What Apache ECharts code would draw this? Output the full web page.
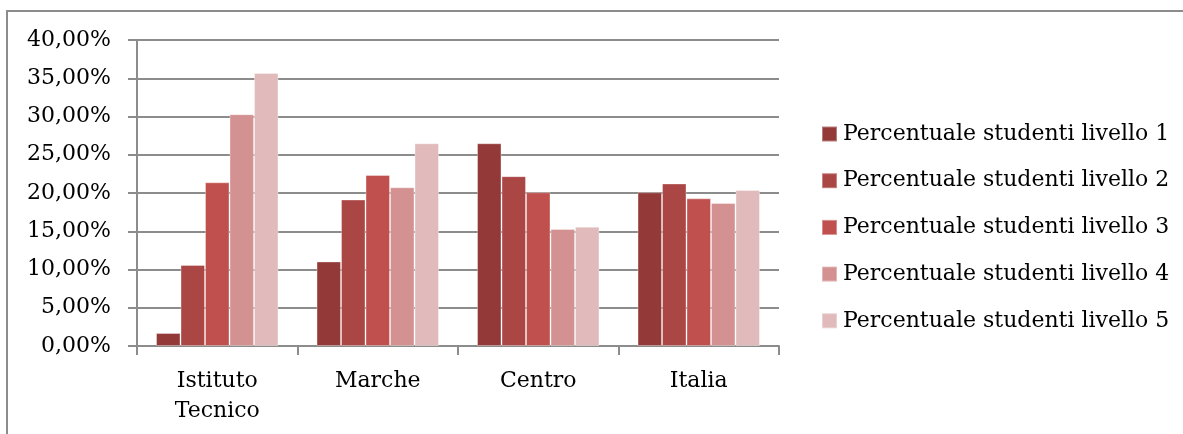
<!DOCTYPE html>
<html>
<head>
<meta charset="utf-8">
<script src="https://cdn.jsdelivr.net/npm/echarts@6/dist/echarts.min.js"></script>
<style>
html,body{margin:0;padding:0;background:#fff;overflow:hidden;}
#chart{width:1183px;height:434px;}
</style>
</head>
<body>
<div id="chart"></div>
<script>
var categories = ["Istituto\nTecnico", "Marche", "Centro", "Italia"];
var seriesNames = ["Percentuale studenti livello 1", "Percentuale studenti livello 2", "Percentuale studenti livello 3", "Percentuale studenti livello 4", "Percentuale studenti livello 5"];
var livello1 = [1.7, 11.05, 26.5, 20.1];
var livello2 = [10.6, 19.15, 22.2, 21.25];
var livello3 = [21.4, 22.35, 20.1, 19.3];
var livello4 = [30.3, 20.75, 15.3, 18.7];
var livello5 = [35.7, 26.5, 15.6, 20.4];
var seriesColors = ["#933a39", "#aa4644", "#c0504d", "#d39291", "#e1bbbb"];

var values = [livello1, livello2, livello3, livello4, livello5];
var font = "DejaVu Serif";
var chart = echarts.init(document.getElementById('chart'));
chart.setOption({
  animation: false,
  textStyle: { fontFamily: font },
  graphic: [
    { type: 'polyline', silent: true, shape: { points: [[7, 440], [7, 11], [1190, 11]] },
      style: { stroke: '#8c8c8c', lineWidth: 2, fill: null } }
  ],
  grid: { left: 137, right: 404, top: 40, bottom: 88, containLabel: false },
  legend: {
    orient: 'vertical', left: 821, top: 123, padding: 0,
    itemWidth: 15, itemHeight: 15, itemGap: 24.7,
    icon: 'rect',
    textStyle: { fontFamily: font, fontSize: 22, color: '#000', lineHeight: 22, padding: [0,0,0,1] },
    data: seriesNames
  },
  xAxis: {
    type: 'category', data: categories,
    axisLine: { lineStyle: { color: '#8c8c8c', width: 2 } },
    axisTick: { show: true, length: 9, lineStyle: { color: '#8c8c8c', width: 2 } },
    axisLabel: { fontFamily: font, fontSize: 22, color: '#000', lineHeight: 30, margin: 20 }
  },
  yAxis: {
    type: 'value', min: 0, max: 40, interval: 5,
    axisLine: { show: true, lineStyle: { color: '#8c8c8c', width: 2 } },
    axisTick: { show: true, length: 9, lineStyle: { color: '#8c8c8c', width: 2 } },
    splitLine: { lineStyle: { color: '#8c8c8c', width: 2 } },
    axisLabel: { fontFamily: font, fontSize: 22, color: '#000', margin: 26,
      formatter: function (v) { return v.toFixed(2).replace('.', ',') + '%'; } }
  },
  series: values.map(function (d, i) {
    return {
      name: seriesNames[i], type: 'bar', data: d,
      barGap: '0%', barCategoryGap: '23.7%',
      itemStyle: { color: seriesColors[i], borderColor: 'rgba(255,255,255,0.35)', borderWidth: 1 }
    };
  })
});
</script>
</body>
</html>
